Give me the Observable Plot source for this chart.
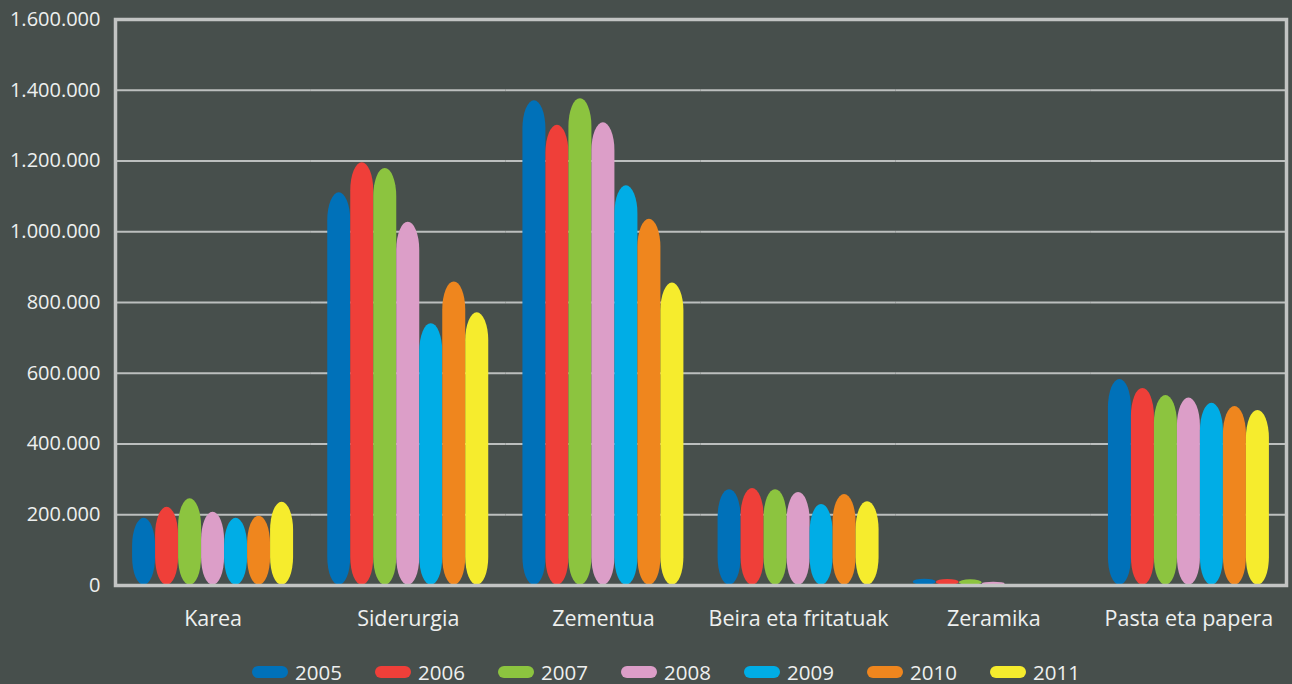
<!DOCTYPE html>
<html>
<head>
<meta charset="utf-8">
<script src="https://cdn.jsdelivr.net/npm/d3@7"></script>
<script src="https://cdn.jsdelivr.net/npm/@observablehq/plot@0.6"></script>
<style>
  html, body { margin: 0; padding: 0; background: #474f4c; }
  body { width: 1292px; height: 684px; overflow: hidden; font-family: "Open Sans", sans-serif; color: #eef0ef; }
  #legend { display: flex; align-items: center; height: 25px; padding-top: 14px; padding-left: 252px; }
  .item { display: flex; align-items: center; width: 123px; font-size: 20.5px; }
  .sw { width: 36px; height: 12px; border-radius: 6px; margin-right: 7px; }
</style>
</head>
<body>
<div id="chart"></div>
<div id="legend"></div>
<script>
const categories = ["Karea", "Siderurgia", "Zementua", "Beira eta fritatuak", "Zeramika", "Pasta eta papera"];
const years = ["2005", "2006", "2007", "2008", "2009", "2010", "2011"];
const colors = ["#0071b9", "#ef3f39", "#8cc43f", "#dc9ec8", "#00ade6", "#ef861e", "#f6ec2d"];
const yTicks = [0, 200000, 400000, 600000, 800000, 1000000, 1200000, 1400000, 1600000];

const v2005 = [190000, 1110000, 1370000, 271000, 18000, 582000];
const v2006 = [221000, 1195000, 1301000, 274000, 17000, 557000];
const v2007 = [245000, 1179000, 1376000, 271000, 16000, 537000];
const v2008 = [207000, 1027000, 1308000, 263000, 9000, 530000];
const v2009 = [190000, 740000, 1130000, 229000, 3000, 515000];
const v2010 = [196000, 858000, 1035000, 257000, 3000, 506000];
const v2011 = [235000, 771000, 855000, 237000, 2000, 495000];

const series = [v2005, v2006, v2007, v2008, v2009, v2010, v2011];
const rows = [];
years.forEach((yr, i) => categories.forEach((c, j) => rows.push({cat: c, year: yr, value: series[i][j]})));

const locale = d3.formatLocale({decimal: ",", thousands: ".", grouping: [3], currency: ["", "€"]});
const fmt = locale.format(",d");

const chart = Plot.plot({
  width: 1292,
  height: 645,
  marginTop: 19,
  marginBottom: 60,
  marginLeft: 115,
  marginRight: 6,
  style: {background: "transparent", color: "#eef0ef", fontFamily: "Open Sans, sans-serif"},
  fx: {domain: categories, padding: 0, label: null, round: false},
  x: {domain: years, paddingInner: 0, paddingOuter: 0.743, axis: null, round: false},
  y: {domain: [0, 1600000], label: null},
  color: {domain: years, range: colors},
  marks: [
    Plot.ruleY(yTicks, {stroke: "#bcbfbe", strokeWidth: 2}),
    Plot.barY(rows, {fx: "cat", x: "year", y: "value", fill: "year", rx: 11.5, ry: 28, inset: 0}),
    Plot.frame({facet: "super", stroke: "#c2c4c3", strokeWidth: 3.5}),
    Plot.axisY(yTicks, {tickFormat: fmt, tickSize: 0, tickPadding: 15, fontSize: 20, label: null}),
    Plot.axisFx({anchor: "bottom", tickSize: 0, tickPadding: 25, fontSize: 21.5, label: null})
  ]
});
document.getElementById("chart").appendChild(chart);

const legend = document.getElementById("legend");
years.forEach((yr, i) => {
  const it = document.createElement("div");
  it.className = "item";
  const sw = document.createElement("div");
  sw.className = "sw";
  sw.style.background = colors[i];
  const t = document.createElement("span");
  t.textContent = yr;
  it.appendChild(sw);
  it.appendChild(t);
  legend.appendChild(it);
});
</script>
</body>
</html>
